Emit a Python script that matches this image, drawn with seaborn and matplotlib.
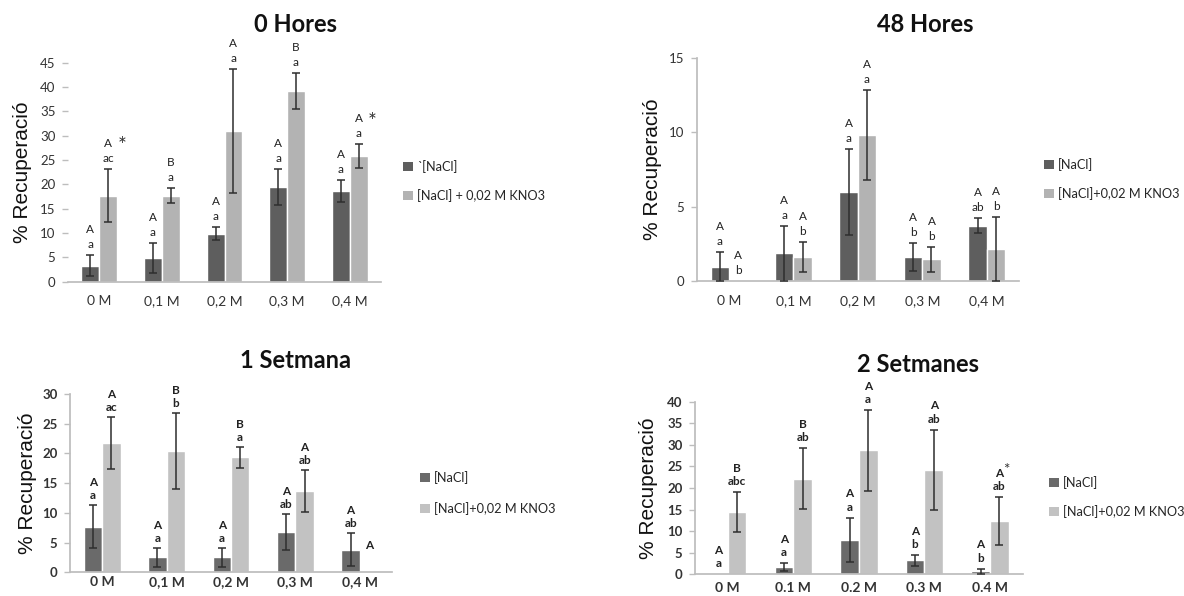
import numpy as np
import pandas as pd
import matplotlib
matplotlib.use("Agg")
import matplotlib.pyplot as plt
from matplotlib.patches import Patch
import seaborn as sns

# ---- data -------------------------------------------------------------
cats_comma = ["0 M", "0,1 M", "0,2 M", "0,3 M", "0,4 M"]
cats_dot = ["0 M", "0.1 M", "0.2 M", "0.3 M", "0.4 M"]

# 0 Hores
h0_nacl = [3.3, 4.8, 9.9, 19.5, 18.6]
h0_nacl_err = [2.1, 3.1, 1.4, 3.7, 2.2]
h0_kno3 = [17.7, 17.7, 31.0, 39.2, 25.8]
h0_kno3_err = [5.5, 1.6, 12.8, 3.7, 2.4]
h0_nacl_up = ["A", "A", "A", "A", "A"]
h0_nacl_lo = ["a", "a", "a", "a", "a"]
h0_kno3_up = ["A", "B", "A", "B", "A"]
h0_kno3_lo = ["ac", "a", "a", "a", "a"]
h0_kno3_star = [True, False, False, False, True]

# 48 Hores
h48_nacl = [0.96, 1.86, 6.0, 1.6, 3.7]
h48_nacl_err = [0.96, 1.85, 2.9, 0.95, 0.5]
h48_kno3 = [0.0, 1.63, 9.8, 1.45, 2.13]
h48_kno3_err = [0.0, 1.0, 3.0, 0.85, 2.15]
h48_nacl_up = ["A", "A", "A", "A", "A"]
h48_nacl_lo = ["a", "a", "a", "b", "ab"]
h48_kno3_up = ["A", "A", "A", "A", "A"]
h48_kno3_lo = ["b", "b", "a", "b", "b"]

# 1 Setmana
s1_nacl = [7.7, 2.5, 2.5, 6.8, 3.8]
s1_nacl_err = [3.6, 1.55, 1.6, 3.0, 2.8]
s1_kno3 = [21.7, 20.4, 19.35, 13.7, 0.0]
s1_kno3_err = [4.4, 6.35, 1.8, 3.5, 0.0]
s1_nacl_up = ["A", "A", "A", "A", "A"]
s1_nacl_lo = ["a", "a", "a", "ab", "ab"]
s1_kno3_up = ["A", "B", "B", "A", "A"]
s1_kno3_lo = ["ac", "b", "a", "ab", ""]

# 2 Setmanes
s2_nacl = [0.0, 1.7, 8.0, 3.2, 0.7]
s2_nacl_err = [0.0, 0.9, 5.1, 1.2, 0.6]
s2_kno3 = [14.4, 22.2, 28.7, 24.2, 12.3]
s2_kno3_err = [4.6, 7.0, 9.3, 9.3, 5.6]
s2_nacl_up = ["A", "A", "A", "A", "A"]
s2_nacl_lo = ["a", "a", "a", "b", "b"]
s2_kno3_up = ["B", "B", "A", "A", "A"]
s2_kno3_lo = ["abc", "ab", "a", "ab", "ab"]
s2_kno3_star = [False, False, False, False, True]

# ---- styling ----------------------------------------------------------
sns.set_theme(style="white")
plt.rcParams["font.family"] = ["Lato", "DejaVu Sans"]

SPINE = "#bdbdbd"
ERR = "#2e2e2e"
W, H = 1184, 596

fig = plt.figure(figsize=(W / 100, H / 100), dpi=100)


def px_axes(left, right, top, bottom):
    return fig.add_axes([left / W, 1 - bottom / H, (right - left) / W, (bottom - top) / H])


def panel(ax, cats, nacl, nacl_err, kno3, kno3_err, colors, ymax, ystep,
          title, title_xy, ylabel_x, leg_names, leg_xy, leg_spacing,
          nacl_up, nacl_lo, kno3_up, kno3_lo, kno3_star=None, star_style="side",
          bold_ticks=False, left_spine=True, letter_gap=(10.5, 25.5), xpad=9.5):
    series = ["nacl", "kno3"]
    df = pd.DataFrame({
        "cat": list(cats) * 2,
        "serie": [series[0]] * len(cats) + [series[1]] * len(cats),
        "val": list(nacl) + list(kno3),
    })
    sns.barplot(data=df, x="cat", y="val", hue="serie", order=cats,
                hue_order=series, palette=colors, width=0.57, errorbar=None,
                saturation=1, legend=False, ax=ax)

    weight = "bold" if bold_ticks else "normal"
    for ci, (vals, errs, ups, los) in enumerate([(nacl, nacl_err, nacl_up, nacl_lo),
                                                  (kno3, kno3_err, kno3_up, kno3_lo)]):
        bars = ax.containers[ci]
        for i, bar in enumerate(bars):
            xc = bar.get_x() + bar.get_width() / 2
            v, e = vals[i], errs[i]
            if e > 0:
                ax.errorbar(xc, v, yerr=e, fmt="none", ecolor=ERR, elinewidth=1.1,
                            capsize=3.2, capthick=1.1, zorder=5)
            top = v + e
            lo_txt = los[i]
            if lo_txt:
                ax.annotate(lo_txt, (xc, top), xytext=(0, letter_gap[0]),
                            textcoords="offset pixels", ha="center", va="center",
                            fontsize=8.5, color="#222222", fontweight=weight,
                            annotation_clip=False)
                up_off = letter_gap[1]
            else:
                up_off = letter_gap[1] + 4
            ax.annotate(ups[i], (xc, top), xytext=(0, up_off),
                        textcoords="offset pixels", ha="center", va="center",
                        fontsize=8.5, color="#222222", fontweight=weight,
                        annotation_clip=False)
            if ci == 1 and kno3_star is not None and kno3_star[i]:
                if star_style == "side":
                    ax.annotate("*", (xc, top), xytext=(14, up_off - 3),
                                textcoords="offset pixels", ha="center", va="center",
                                fontsize=15, color="#333333", annotation_clip=False)
                else:
                    ax.annotate("*", (xc, top), xytext=(7.5, up_off + 3),
                                textcoords="offset pixels", ha="center", va="center",
                                fontsize=11, color="#333333", annotation_clip=False)

    ax.set_xlim(-0.5, len(cats) - 0.5)
    ax.set_ylim(0, ymax)
    yt = np.arange(0, ymax + 0.01, ystep)
    ax.set_yticks(yt)
    ax.set_yticklabels([f"{int(t)}" for t in yt], fontsize=9.5, color="#333333",
                       fontweight=weight)
    ax.set_xticks(range(len(cats)))
    ax.set_xticklabels(cats, fontsize=10, color="#333333", fontweight=weight)
    ax.set_xticks(np.arange(-0.5, len(cats)), minor=True)
    ax.tick_params(axis="x", which="major", length=0, pad=xpad)
    ax.tick_params(axis="x", which="minor", length=5, color=SPINE, width=1, direction="out")
    ax.tick_params(axis="y", which="major", length=4, color=SPINE, width=1,
                   direction="out", left=True, pad=5)
    ax.set_xlabel("")
    ax.set_ylabel("% Recuperació", fontsize=15, family=["Liberation Sans", "DejaVu Sans"],
                  color="#111111")
    ax.yaxis.set_label_coords(ylabel_x, 0.5)
    for side in ("top", "right"):
        ax.spines[side].set_visible(False)
    ax.spines["bottom"].set_color(SPINE)
    ax.spines["left"].set_color(SPINE)
    ax.spines["left"].set_visible(left_spine)
    ax.set_facecolor("white")

    fig.text(title_xy[0] / W, 1 - title_xy[1] / H, title, ha="center", va="center",
             fontsize=17, fontweight="bold", color="#111111")

    handles = [Patch(facecolor=colors[0], edgecolor="none"),
               Patch(facecolor=colors[1], edgecolor="none")]
    fig.legend(handles, leg_names, loc="center left",
               bbox_to_anchor=(leg_xy[0] / W, 1 - leg_xy[1] / H),
               frameon=False, fontsize=9.2, handlelength=0.75, handleheight=0.75,
               handletextpad=0.35, labelspacing=leg_spacing, borderpad=0,
               borderaxespad=0)


dark1, light1 = "#5e5e5e", "#b3b3b3"
dark2, light2 = "#6a6a6a", "#c2c2c2"

ax1 = px_axes(68, 381, 62.7, 281.7)
panel(ax1, cats_comma, h0_nacl, h0_nacl_err, h0_kno3, h0_kno3_err,
      [dark1, light1], 45, 5, "0 Hores", (295, 25), -0.115,
      ["`[NaCl]", "[NaCl] + 0,02 M KNO3"], (403, 181), 1.25,
      h0_nacl_up, h0_nacl_lo, h0_kno3_up, h0_kno3_lo, h0_kno3_star, "side",
      left_spine=False, xpad=9.5)

ax2 = px_axes(696.7, 1019, 57.7, 281)
panel(ax2, cats_comma, h48_nacl, h48_nacl_err, h48_kno3, h48_kno3_err,
      [dark1, light1], 15, 5, "48 Hores", (925, 25), -0.108,
      ["[NaCl]", "[NaCl]+0,02 M KNO3"], (1044, 179), 1.25,
      h48_nacl_up, h48_nacl_lo, h48_kno3_up, h48_kno3_lo, xpad=10)

ax3 = px_axes(70, 392, 394, 572.3)
panel(ax3, cats_comma, s1_nacl, s1_nacl_err, s1_kno3, s1_kno3_err,
      [dark2, light2], 30, 5, "1 Setmana", (295, 361), -0.102,
      ["[NaCl]", "[NaCl]+0,02 M KNO3"], (420, 493), 1.45,
      s1_nacl_up, s1_nacl_lo, s1_kno3_up, s1_kno3_lo,
      bold_ticks=True, letter_gap=(9.5, 22.5), xpad=3)

ax4 = px_axes(695, 1022.7, 401.7, 574.3)
panel(ax4, cats_dot, s2_nacl, s2_nacl_err, s2_kno3, s2_kno3_err,
      [dark2, light2], 40, 5, "2 Setmanes", (918, 364), -0.113,
      ["[NaCl]", "[NaCl]+0,02 M KNO3"], (1049, 497), 1.25,
      s2_nacl_up, s2_nacl_lo, s2_kno3_up, s2_kno3_lo, s2_kno3_star, "super",
      bold_ticks=True, letter_gap=(10.5, 24), xpad=5.5)

fig.savefig("out.png", dpi=100, facecolor="white")
